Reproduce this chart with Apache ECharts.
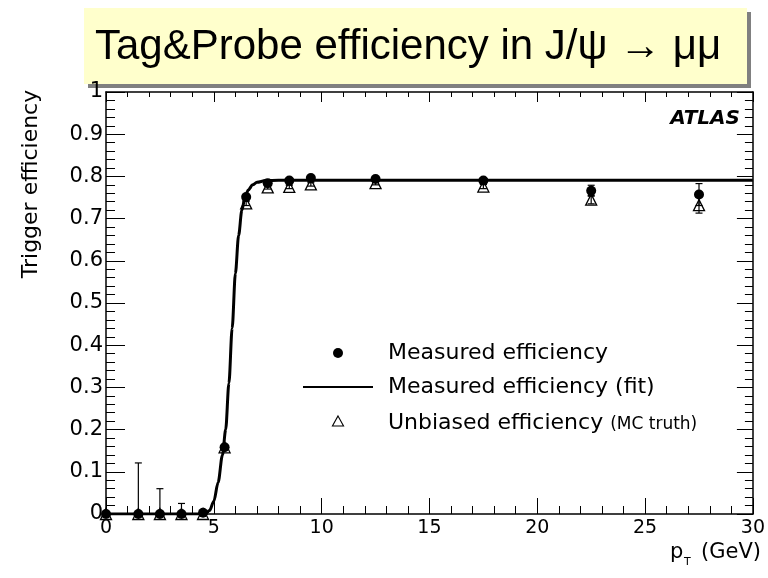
<!DOCTYPE html>
<html>
<head>
<meta charset="utf-8">
<script src="https://cdn.jsdelivr.net/npm/echarts@6/dist/echarts.min.js"></script>
<style>
  html, body { margin: 0; padding: 0; background: #fff; }
  #chart { width: 768px; height: 578px; }
</style>
</head>
<body>
<div id="chart"></div>
<script>
// Tag & probe trigger efficiency versus muon transverse momentum
const ptBins      = [0, 1.5, 2.5, 3.5, 4.5, 5.5, 6.5, 7.5, 8.5, 9.5, 12.5, 17.5, 22.5, 27.5];
const measEff     = [0, 0, 0, 0, 0.003, 0.158, 0.751, 0.784, 0.790, 0.796, 0.794, 0.790, 0.766, 0.757];
const measErrUp   = [0, 0.121, 0.060, 0.025, 0.004, 0.006, 0.006, 0.005, 0.005, 0.005, 0.005, 0.006, 0.013, 0.026];
const measErrDown = [0, 0, 0, 0, 0.003, 0.006, 0.006, 0.005, 0.005, 0.005, 0.005, 0.006, 0.013, 0.026];
const mcEff       = [0, 0, 0, 0, 0, 0.158, 0.736, 0.774, 0.775, 0.781, 0.784, 0.776, 0.745, 0.732];
const mcErr       = [0, 0, 0, 0, 0, 0.005, 0.005, 0.004, 0.004, 0.004, 0.004, 0.005, 0.010, 0.019];

// Fitted turn-on curve, sampled along the drawn line
const fitPt  = [0, 4.6, 4.8, 5.0, 5.2, 5.4, 5.55, 5.7, 5.85, 6.0, 6.15, 6.3, 6.45, 6.6, 6.8, 7.0, 7.4, 8.0, 30];
const fitEff = [0, 0, 0.008, 0.03, 0.075, 0.14, 0.2, 0.31, 0.44, 0.57, 0.66, 0.72, 0.752, 0.768, 0.78, 0.786, 0.79, 0.791, 0.791];

const seriesNames = ['Measured efficiency', 'Measured efficiency (fit)', 'Unbiased efficiency (MC truth)'];
const titleText = 'Tag&Probe efficiency in J/\u03c8 \u2192 \u03bc\u03bc';
const yTitle = 'Trigger efficiency';

const plotFont = 'DejaVu Sans';

function pairs(xs, ys) { return xs.map((x, i) => [x, ys[i]]); }
function errRows(xs, ys, up, down) {
  const rows = [];
  xs.forEach((x, i) => { if (up[i] > 0 || down[i] > 0) rows.push([x, Math.max(0, ys[i] - down[i]), ys[i] + up[i]]); });
  return rows;
}

function errorBar(params, api) {
  const x = api.value(0), lo = api.value(1), hi = api.value(2);
  const a = api.coord([x, lo]), b = api.coord([x, hi]);
  const cap = 3.5;
  const style = { stroke: '#000', lineWidth: 1.2 };
  const children = [
    { type: 'line', shape: { x1: a[0], y1: a[1], x2: b[0], y2: b[1] }, style },
    { type: 'line', shape: { x1: b[0] - cap, y1: b[1], x2: b[0] + cap, y2: b[1] }, style }
  ];
  if (lo > 0) children.push({ type: 'line', shape: { x1: a[0] - cap, y1: a[1], x2: a[0] + cap, y2: a[1] }, style });
  return { type: 'group', children };
}

function xAxisCfg(pos, showLabel, major, minor) {
  return {
    type: 'value', position: pos, min: 0, max: 30, interval: 5,
    axisLine: { show: true, onZero: false, lineStyle: { color: '#000', width: 1.5 } },
    axisTick: { show: true, inside: true, length: major, lineStyle: { color: '#000', width: 1 } },
    minorTick: { show: true, splitNumber: 5, length: minor, lineStyle: { color: '#000', width: 1 } },
    splitLine: { show: false }, minorSplitLine: { show: false },
    axisLabel: { show: showLabel, color: '#000', fontFamily: plotFont, fontSize: 19, margin: 5 }
  };
}
function yAxisCfg(pos, showLabel, major, minor) {
  return {
    type: 'value', position: pos, min: 0, max: 1, interval: 0.1,
    axisLine: { show: true, onZero: false, lineStyle: { color: '#000', width: 1.5 } },
    axisTick: { show: true, inside: true, length: major, lineStyle: { color: '#000', width: 1 } },
    minorTick: { show: true, splitNumber: 5, length: minor, lineStyle: { color: '#000', width: 1 } },
    splitLine: { show: false }, minorSplitLine: { show: false },
    axisLabel: { show: showLabel, color: '#000', fontFamily: plotFont, fontSize: 21, margin: 3, padding: [7, 0, 0, 0] }
  };
}

const chart = echarts.init(document.getElementById('chart'), null, { renderer: 'canvas' });
chart.setOption({
  animation: false,
  backgroundColor: '#fff',
  title: {
    text: titleText, left: 95, top: 26, z: 10, padding: 0,
    textStyle: { fontFamily: 'Liberation Sans', fontSize: 42, fontWeight: 'normal', color: '#000' }
  },
  grid: { left: 106, right: 9, top: 92, bottom: 64 },
  xAxis: [xAxisCfg('bottom', true, 16, 8), xAxisCfg('top', false, 10, 5)],
  yAxis: [yAxisCfg('left', true, 19, 9), yAxisCfg('right', false, 16, 8)],
  legend: {
    orient: 'vertical', left: 302, top: 342, padding: 0,
    itemWidth: 70, itemHeight: 10, itemGap: 12, symbolKeepAspect: true,
    data: [
      { name: seriesNames[0], icon: 'circle', itemStyle: { color: '#000' } },
      { name: seriesNames[1], itemStyle: { color: 'rgba(0,0,0,0)', borderWidth: 0 } },
      { name: seriesNames[2], icon: 'path://M5,0L10,9L0,9Z',
        itemStyle: { color: 'rgba(255,255,255,0)', borderColor: '#000', borderWidth: 1.1 } }
    ],
    formatter: n => n === seriesNames[2] ? '{a|Unbiased efficiency} {b|(MC truth)}' : n,
    textStyle: {
      fontFamily: plotFont, fontSize: 22, color: '#000', padding: [0, 0, 0, 10],
      rich: {
        a: { fontFamily: plotFont, fontSize: 22, color: '#000', verticalAlign: 'bottom', lineHeight: 26 },
        b: { fontFamily: plotFont, fontSize: 17, color: '#000', verticalAlign: 'bottom', lineHeight: 20, padding: [0, 0, 1, 0] }
      }
    }
  },
  graphic: [
    {
      type: 'rect', z: 0, shape: { x: 84, y: 8, width: 663, height: 76 },
      style: { fill: '#ffffcc', shadowColor: '#808080', shadowOffsetX: 4, shadowOffsetY: 4, shadowBlur: 0 }
    },
    {
      type: 'text', x: 740, y: 119, z: 10,
      style: { text: 'ATLAS', fill: '#000', font: 'italic bold 20px "DejaVu Sans"', align: 'right', verticalAlign: 'middle' }
    },
    {
      type: 'text', x: 31, y: 184, rotation: Math.PI / 2, z: 10,
      style: { text: yTitle, fill: '#000', font: '22px "DejaVu Sans"', align: 'center', verticalAlign: 'middle' }
    },
    {
      type: 'text', x: 670, y: 553, z: 10,
      style: { text: 'p', fill: '#000', font: '21px "DejaVu Sans"', align: 'left', verticalAlign: 'middle' }
    },
    {
      type: 'text', x: 684, y: 562, z: 10,
      style: { text: 'T', fill: '#000', font: '11px "DejaVu Sans"', align: 'left', verticalAlign: 'middle' }
    },
    {
      type: 'text', x: 761, y: 553, z: 10,
      style: { text: '(GeV)', fill: '#000', font: '21px "DejaVu Sans"', align: 'right', verticalAlign: 'middle' }
    }
  ],
  series: [
    {
      name: seriesNames[1], type: 'line', data: pairs(fitPt, fitEff), symbol: 'none',
      smooth: 0.3, smoothMonotone: 'x', z: 2,
      lineStyle: { color: '#000', width: 3 }, itemStyle: { color: '#000' }
    },
    {
      name: 'mcErrors', type: 'custom', data: errRows(ptBins, mcEff, mcErr, mcErr),
      encode: { x: 0, y: [1, 2] }, renderItem: errorBar, z: 3
    },
    {
      name: seriesNames[2], type: 'scatter', data: pairs(ptBins, mcEff), symbol: 'triangle', symbolSize: 11, z: 4,
      itemStyle: { color: 'rgba(255,255,255,0)', borderColor: '#000', borderWidth: 1.3, opacity: 1 }
    },
    {
      name: 'measErrors', type: 'custom', data: errRows(ptBins, measEff, measErrUp, measErrDown),
      encode: { x: 0, y: [1, 2] }, renderItem: errorBar, z: 5
    },
    {
      name: seriesNames[0], type: 'scatter', data: pairs(ptBins, measEff), symbol: 'circle', symbolSize: 10, z: 6,
      itemStyle: { color: '#000', opacity: 1 }
    }
  ]
});
</script>
</body>
</html>
